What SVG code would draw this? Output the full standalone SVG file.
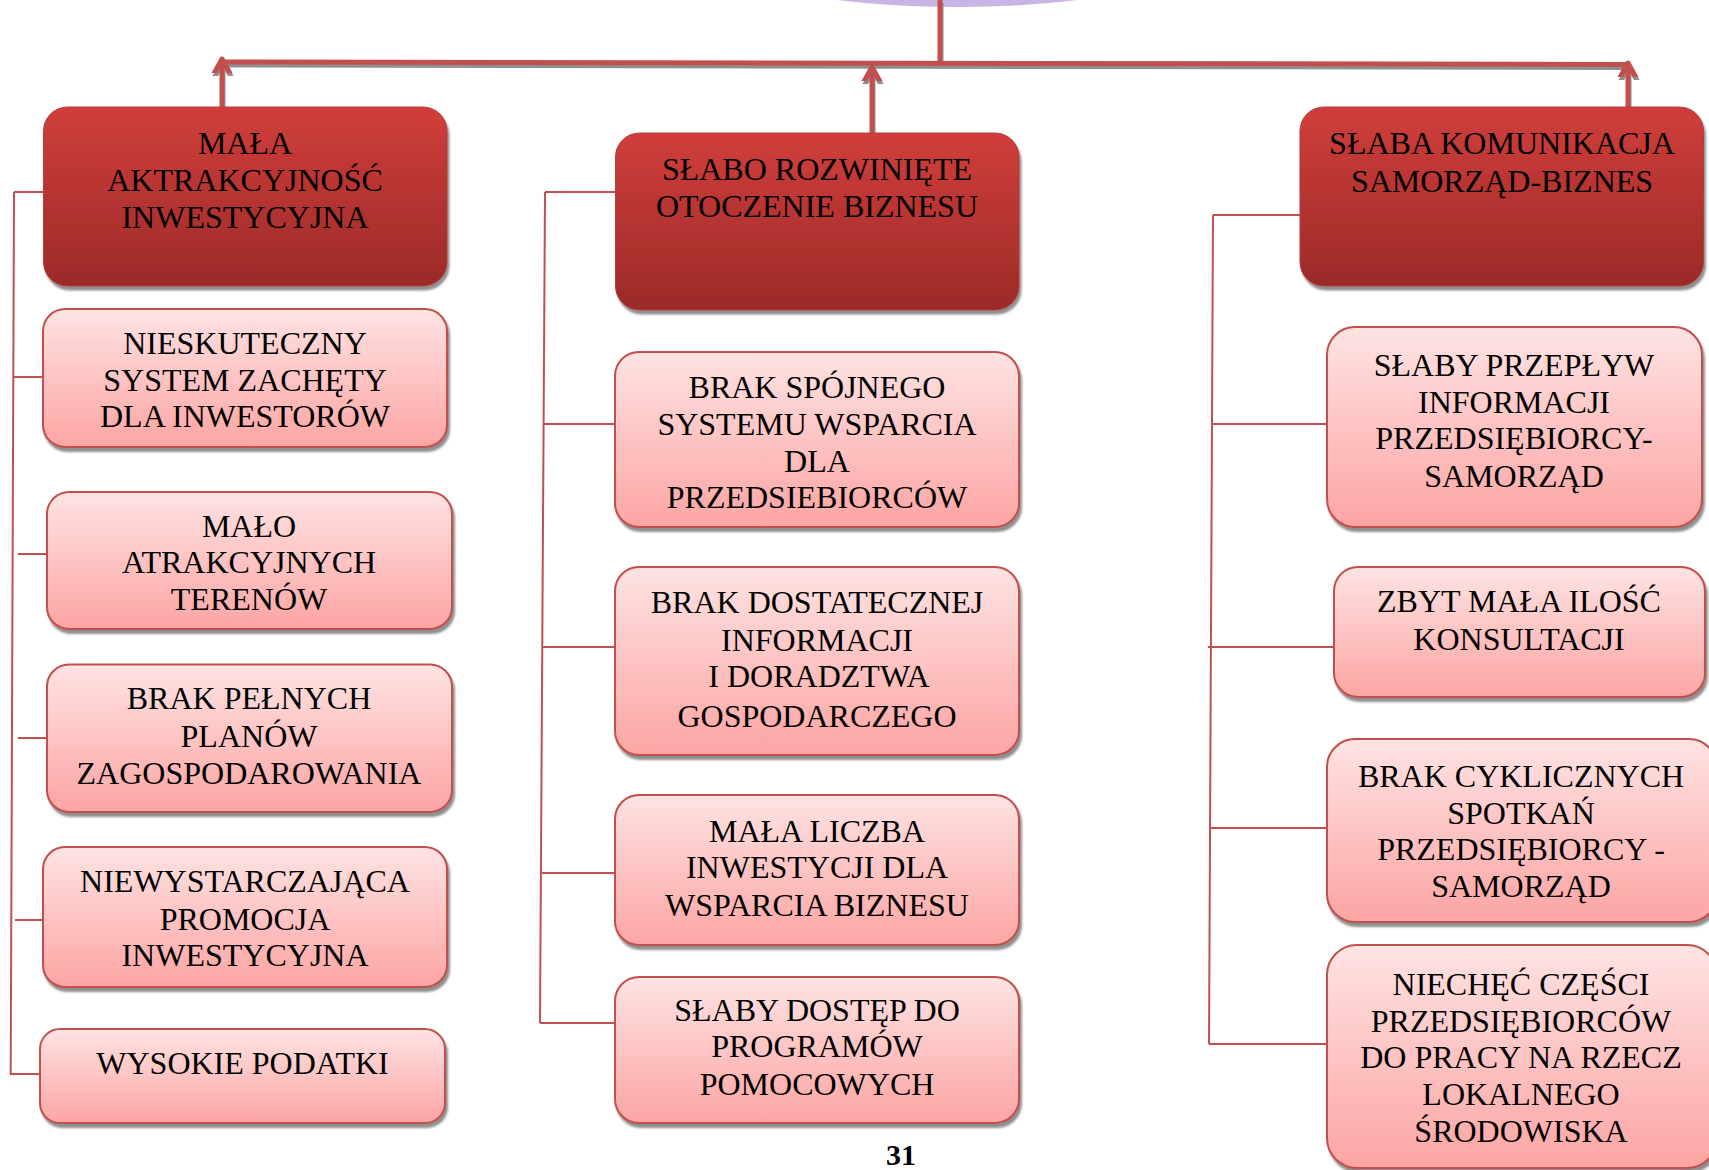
<svg xmlns="http://www.w3.org/2000/svg" width="1709" height="1170" viewBox="0 0 1709 1170">
  <defs>
    <linearGradient id="gHead" x1="0" y1="0" x2="0" y2="1">
      <stop offset="0" stop-color="#d03e3b"/>
      <stop offset="1" stop-color="#9b2a28"/>
    </linearGradient>
    <linearGradient id="gPink" x1="0" y1="0" x2="0" y2="1">
      <stop offset="0" stop-color="#fee3e3"/>
      <stop offset="1" stop-color="#fca5a3"/>
    </linearGradient>
    <filter id="sh" x="-10%" y="-10%" width="130%" height="140%">
      <feDropShadow dx="2" dy="4" stdDeviation="0.8" flood-color="#7a7a7a" flood-opacity="0.85"/>
    </filter>
    <filter id="shl" x="-5%" y="-50%" width="110%" height="300%">
      <feDropShadow dx="1" dy="3" stdDeviation="0.6" flood-color="#7a7a7a" flood-opacity="0.85"/>
    </filter>
    <marker id="chev" viewBox="-14 -14 28 28" markerWidth="28" markerHeight="28" markerUnits="userSpaceOnUse" refX="0" refY="0" orient="auto">
      <path d="M-20,-11 L0,0 L-20,11" fill="none" stroke="#c0504d" stroke-width="5" stroke-linecap="round" stroke-linejoin="round"/>
    </marker>
    <style>
      .head { fill: url(#gHead); stroke: #b83a37; stroke-width: 1; filter: url(#sh); }
      .pink { fill: url(#gPink); stroke: #c0504d; stroke-width: 2; filter: url(#sh); }
      .t { font-family: "Liberation Serif", "Times New Roman", serif; font-size: 32px; fill: #000; text-anchor: middle; }
      .thin { stroke: #c0504d; stroke-width: 2; fill: none; }
      .thick { stroke: #c0504d; stroke-width: 5; fill: none; stroke-linecap: butt; }
      .pg { font-family: "Liberation Serif", "Times New Roman", serif; font-size: 30px; font-weight: bold; fill: #000; text-anchor: middle; }
    </style>
  </defs>

  <rect x="0" y="0" width="1709" height="1170" fill="#ffffff"/>

  <!-- top ellipse (partially visible) -->
  <g id="top-node">
    <ellipse cx="957" cy="-45" rx="240" ry="52" fill="#c9b5e5"/>
  </g>

  <!-- connectors -->
  <g id="connectors">
    <g filter="url(#shl)">
      <line class="thick" x1="940" y1="0" x2="940" y2="62"/>
      <line class="thick" x1="222" y1="62" x2="1628" y2="64.5"/>
    </g>
    <g filter="url(#shl)">
      <line class="thick" x1="222" y1="107" x2="222" y2="59" marker-end="url(#chev)"/>
      <line class="thick" x1="872" y1="133" x2="872" y2="67" marker-end="url(#chev)"/>
      <line class="thick" x1="1628" y1="107" x2="1628" y2="63" marker-end="url(#chev)"/>
    </g>

    <!-- left column -->
    <line class="thin" x1="14" y1="192" x2="10.7" y2="1074"/>
    <line class="thin" x1="14" y1="192" x2="44" y2="192"/>
    <line class="thin" x1="13" y1="377" x2="44" y2="377"/>
    <line class="thin" x1="18" y1="554" x2="48" y2="554"/>
    <line class="thin" x1="18" y1="738" x2="48" y2="738"/>
    <line class="thin" x1="15" y1="920" x2="44" y2="920"/>
    <line class="thin" x1="10" y1="1074" x2="41" y2="1074"/>

    <!-- middle column -->
    <line class="thin" x1="545" y1="192" x2="540" y2="1023"/>
    <line class="thin" x1="545" y1="192" x2="617" y2="192"/>
    <line class="thin" x1="543" y1="424" x2="616" y2="424"/>
    <line class="thin" x1="543" y1="647" x2="616" y2="647"/>
    <line class="thin" x1="542" y1="873" x2="616" y2="873"/>
    <line class="thin" x1="540" y1="1023" x2="616" y2="1023"/>

    <!-- right column -->
    <line class="thin" x1="1213" y1="215" x2="1209" y2="1044"/>
    <line class="thin" x1="1213" y1="215" x2="1301" y2="215"/>
    <line class="thin" x1="1212" y1="424" x2="1328" y2="424"/>
    <line class="thin" x1="1208" y1="647" x2="1335" y2="647"/>
    <line class="thin" x1="1211" y1="828" x2="1328" y2="828"/>
    <line class="thin" x1="1209" y1="1044" x2="1328" y2="1044"/>
  </g>

  <!-- header nodes -->
  <g id="h1">
    <rect class="head" x="43.5" y="107" width="403.5" height="179" rx="24"/>
    <text class="t" x="245" y="154">MAŁA</text>
    <text class="t" x="245" y="191">AKTRAKCYJNOŚĆ</text>
    <text class="t" x="245" y="228">INWESTYCYJNA</text>
  </g>
  <g id="h2">
    <rect class="head" x="615.5" y="133" width="403.5" height="177" rx="24"/>
    <text class="t" x="817" y="180">SŁABO ROZWINIĘTE</text>
    <text class="t" x="817" y="217">OTOCZENIE BIZNESU</text>
  </g>
  <g id="h3">
    <rect class="head" x="1300" y="107" width="403.5" height="179" rx="24"/>
    <text class="t" x="1502" y="154">SŁABA KOMUNIKACJA</text>
    <text class="t" x="1502" y="192">SAMORZĄD-BIZNES</text>
  </g>

  <!-- left column nodes -->
  <g id="l1">
    <rect class="pink" x="43" y="309" width="404" height="138" rx="22"/>
    <text class="t" x="245" y="354">NIESKUTECZNY</text>
    <text class="t" x="245" y="391">SYSTEM ZACHĘTY</text>
    <text class="t" x="245" y="427">DLA INWESTORÓW</text>
  </g>
  <g id="l2">
    <rect class="pink" x="47" y="492" width="405" height="137" rx="22"/>
    <text class="t" x="249" y="537">MAŁO</text>
    <text class="t" x="249" y="573">ATRAKCYJNYCH</text>
    <text class="t" x="249" y="610">TERENÓW</text>
  </g>
  <g id="l3">
    <rect class="pink" x="47" y="664.5" width="405" height="147.5" rx="22"/>
    <text class="t" x="249" y="709">BRAK PEŁNYCH</text>
    <text class="t" x="249" y="747">PLANÓW</text>
    <text class="t" x="249" y="784">ZAGOSPODAROWANIA</text>
  </g>
  <g id="l4">
    <rect class="pink" x="43" y="847" width="404" height="140" rx="22"/>
    <text class="t" x="245" y="892">NIEWYSTARCZAJĄCA</text>
    <text class="t" x="245" y="930">PROMOCJA</text>
    <text class="t" x="245" y="966">INWESTYCYJNA</text>
  </g>
  <g id="l5">
    <rect class="pink" x="40" y="1029" width="405" height="94" rx="20"/>
    <text class="t" x="242.5" y="1074">WYSOKIE PODATKI</text>
  </g>

  <!-- middle column nodes -->
  <g id="m1">
    <rect class="pink" x="615" y="352" width="404" height="175" rx="24"/>
    <text class="t" x="817" y="398">BRAK SPÓJNEGO</text>
    <text class="t" x="817" y="435">SYSTEMU WSPARCIA</text>
    <text class="t" x="817" y="472">DLA</text>
    <text class="t" x="817" y="508">PRZEDSIEBIORCÓW</text>
  </g>
  <g id="m2">
    <rect class="pink" x="615" y="567" width="404" height="188" rx="24"/>
    <text class="t" x="817" y="613">BRAK DOSTATECZNEJ</text>
    <text class="t" x="817" y="651">INFORMACJI</text>
    <text class="t" x="819" y="687">I DORADZTWA</text>
    <text class="t" x="817" y="727">GOSPODARCZEGO</text>
  </g>
  <g id="m3">
    <rect class="pink" x="615" y="795" width="404" height="150" rx="24"/>
    <text class="t" x="817" y="842">MAŁA LICZBA</text>
    <text class="t" x="817" y="878">INWESTYCJI DLA</text>
    <text class="t" x="817" y="916">WSPARCIA BIZNESU</text>
  </g>
  <g id="m4">
    <rect class="pink" x="615" y="977" width="404" height="146" rx="24"/>
    <text class="t" x="817" y="1021">SŁABY DOSTĘP DO</text>
    <text class="t" x="817" y="1057">PROGRAMÓW</text>
    <text class="t" x="817" y="1095">POMOCOWYCH</text>
  </g>

  <!-- right column nodes -->
  <g id="r1">
    <rect class="pink" x="1327" y="327" width="375" height="200" rx="28"/>
    <text class="t" x="1514" y="376">SŁABY PRZEPŁYW</text>
    <text class="t" x="1514" y="413">INFORMACJI</text>
    <text class="t" x="1514" y="449">PRZEDSIĘBIORCY-</text>
    <text class="t" x="1514" y="487">SAMORZĄD</text>
  </g>
  <g id="r2">
    <rect class="pink" x="1334" y="567" width="371" height="130" rx="24"/>
    <text class="t" x="1519" y="612">ZBYT MAŁA ILOŚĆ</text>
    <text class="t" x="1519" y="650">KONSULTACJI</text>
  </g>
  <g id="r3">
    <rect class="pink" x="1327" y="739" width="390" height="183" rx="28"/>
    <text class="t" x="1521" y="787">BRAK CYKLICZNYCH</text>
    <text class="t" x="1521" y="824">SPOTKAŃ</text>
    <text class="t" x="1521" y="860">PRZEDSIĘBIORCY -</text>
    <text class="t" x="1521" y="897">SAMORZĄD</text>
  </g>
  <g id="r4">
    <rect class="pink" x="1327" y="945" width="390" height="223" rx="30"/>
    <text class="t" x="1521" y="995">NIECHĘĆ CZĘŚCI</text>
    <text class="t" x="1521" y="1032">PRZEDSIĘBIORCÓW</text>
    <text class="t" x="1521" y="1068">DO PRACY NA RZECZ</text>
    <text class="t" x="1521" y="1105">LOKALNEGO</text>
    <text class="t" x="1521" y="1142">ŚRODOWISKA</text>
  </g>

  <text class="pg" x="901" y="1165">31</text>
</svg>
